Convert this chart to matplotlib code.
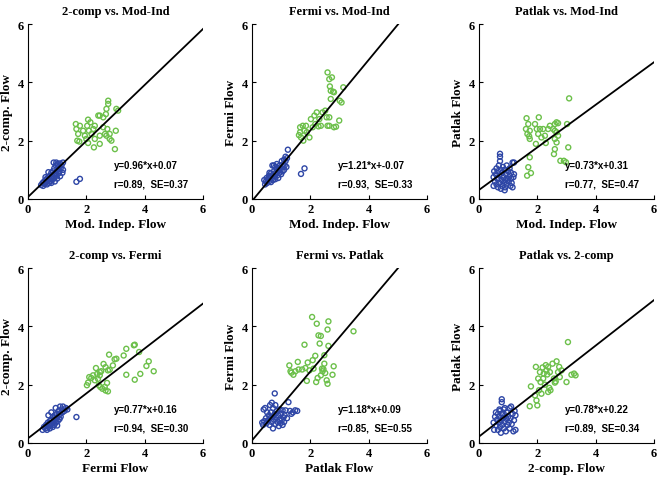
import numpy as np
import matplotlib
matplotlib.use('Agg')
import matplotlib.pyplot as plt

# panel texts
titles = ['2-comp vs. Mod-Ind', 'Fermi vs. Mod-Ind', 'Patlak vs. Mod-Ind',
          '2-comp vs. Fermi', 'Fermi vs. Patlak', 'Patlak vs. 2-comp']
xlabels = ['Mod. Indep. Flow', 'Mod. Indep. Flow', 'Mod. Indep. Flow',
           'Fermi Flow', 'Patlak Flow', '2-comp. Flow']
ylabels = ['2-comp. Flow', 'Fermi Flow', 'Patlak Flow',
           '2-comp. Flow', 'Fermi Flow', 'Patlak Flow']
slopes = [0.96, 1.21, 0.73, 0.77, 1.18, 0.78]
intercepts = [0.07, -0.07, 0.31, 0.16, 0.09, 0.22]
eq_texts = ['y=0.96*x+0.07', 'y=1.21*x+-0.07', 'y=0.73*x+0.31',
            'y=0.77*x+0.16', 'y=1.18*x+0.09', 'y=0.78*x+0.22']
stat_texts = ['r=0.89,  SE=0.37', 'r=0.93,  SE=0.33', 'r=0.77,  SE=0.47',
              'r=0.94,  SE=0.30', 'r=0.85,  SE=0.55', 'r=0.89,  SE=0.34']
ticks = [0, 2, 4, 6]

# estimated points (x, y) per panel: green = stress, blue = rest
p1_green = [(1.64, 2.57), (1.66, 2.4), (1.72, 2.23), (1.69, 2.0), (1.76, 1.97), (1.89, 2.34),
            (1.95, 2.17), (2.03, 2.51), (2.06, 2.72), (2.14, 2.63), (2.09, 2.34), (2.0, 2.06),
            (2.18, 2.23), (2.24, 2.4), (2.29, 2.51), (2.06, 1.92), (2.26, 1.77), (2.41, 2.86),
            (2.46, 2.86), (2.67, 2.91), (2.75, 3.37), (2.75, 3.26), (2.69, 3.09), (2.58, 2.8),
            (2.58, 2.46), (2.64, 2.23), (2.69, 2.17), (2.72, 2.4), (2.46, 1.89), (2.8, 2.06),
            (2.86, 2.0), (2.8, 2.23), (2.98, 1.71), (3.01, 2.34), (3.03, 3.09), (3.09, 3.03),
            (1.78, 2.51), (2.46, 2.17), (2.29, 2.06)]
p1_blue = [(0.45, 0.48), (0.5, 0.55), (0.52, 0.45), (0.55, 0.6), (0.58, 0.52), (0.6, 0.65),
           (0.62, 0.58), (0.65, 0.7), (0.65, 0.5), (0.68, 0.62), (0.7, 0.75), (0.72, 0.55),
           (0.72, 0.68), (0.75, 0.8), (0.78, 0.62), (0.78, 0.72), (0.8, 0.9), (0.8, 0.55),
           (0.82, 0.78), (0.85, 0.68), (0.85, 0.95), (0.88, 0.85), (0.88, 1.25), (0.9, 0.72),
           (0.9, 1.05), (0.92, 0.6), (0.95, 0.9), (0.95, 1.15), (0.98, 0.8), (1.0, 1.0),
           (1.0, 0.7), (1.02, 1.2), (1.05, 0.88), (1.05, 1.1), (1.08, 0.95), (1.1, 1.22),
           (1.1, 0.78), (1.12, 1.05), (1.15, 1.15), (1.18, 0.9), (1.2, 1.25), (1.2, 1.0),
           (0.97, 1.25), (0.7, 0.92), (0.6, 0.75), (1.66, 0.59), (1.78, 0.69)]

p2_green = [(1.65, 2.46), (1.65, 2.29), (1.68, 2.11), (1.74, 2.51), (1.8, 2.34), (1.76, 2.0),
            (1.85, 2.51), (1.88, 2.29), (1.97, 2.11), (2.02, 2.74), (2.08, 2.46), (2.14, 2.86),
            (2.17, 2.57), (2.22, 2.97), (2.31, 2.74), (2.36, 2.51), (2.42, 2.97), (2.51, 3.03),
            (2.56, 2.8), (2.59, 2.51), (2.59, 4.34), (2.65, 4.11), (2.74, 4.17), (2.67, 3.86),
            (2.7, 3.71), (2.78, 3.68), (2.81, 3.66), (2.7, 3.43), (2.65, 2.8), (2.65, 2.51),
            (2.81, 2.46), (2.88, 2.48), (2.99, 2.69), (3.01, 3.37), (3.07, 3.31), (3.13, 3.83),
            (1.61, 2.19), (2.28, 2.49)]
p2_blue = [(0.42, 0.65), (0.45, 0.5), (0.48, 0.6), (0.5, 0.72), (0.52, 0.55), (0.55, 0.68),
           (0.58, 0.8), (0.6, 0.62), (0.62, 0.75), (0.65, 0.88), (0.65, 0.58), (0.68, 0.7),
           (0.7, 1.15), (0.7, 0.82), (0.72, 0.65), (0.75, 0.95), (0.78, 0.78), (0.8, 1.1),
           (0.8, 0.68), (0.82, 0.9), (0.85, 1.2), (0.85, 1.0), (0.88, 0.82), (0.9, 0.72),
           (0.92, 1.05), (0.95, 1.15), (0.95, 0.9), (0.98, 1.0), (1.0, 0.85), (1.02, 1.3),
           (1.05, 1.1), (1.05, 0.95), (1.08, 1.2), (1.1, 1.35), (1.1, 1.0), (1.12, 1.15),
           (1.15, 1.45), (1.15, 1.3), (1.18, 1.1), (1.2, 1.4), (0.75, 1.15), (0.6, 0.9),
           (1.23, 1.69), (1.68, 0.86), (1.8, 1.05)]

p3_green = [(1.63, 2.77), (1.69, 2.57), (1.61, 2.4), (1.66, 2.23), (1.72, 2.15), (1.74, 2.06),
            (1.74, 2.34), (1.92, 2.57), (1.98, 2.4), (2.05, 2.8), (2.03, 2.23), (2.09, 2.4),
            (2.14, 2.11), (1.95, 1.89), (2.2, 2.4), (2.26, 2.17), (2.29, 1.92), (2.37, 2.4),
            (2.43, 2.51), (2.54, 2.4), (2.6, 2.57), (2.66, 2.63), (2.71, 2.6), (2.6, 2.34),
            (2.66, 2.29), (2.71, 2.17), (2.6, 2.06), (2.66, 1.94), (2.6, 1.71), (2.57, 1.54),
            (3.02, 2.57), (3.06, 1.77), (3.09, 3.45), (2.79, 1.31), (2.91, 1.31), (2.98, 1.26),
            (1.69, 1.09), (1.65, 0.8), (1.78, 0.89), (1.74, 1.43)]
p3_blue = [(0.5, 0.45), (0.5, 0.75), (0.52, 0.95), (0.55, 0.6), (0.58, 0.85), (0.6, 1.05),
           (0.6, 0.5), (0.62, 0.7), (0.65, 0.4), (0.65, 0.95), (0.68, 1.15), (0.7, 0.55),
           (0.7, 0.8), (0.72, 1.55), (0.72, 1.45), (0.72, 1.3), (0.75, 0.35), (0.75, 1.0),
           (0.78, 0.65), (0.8, 0.45), (0.8, 0.9), (0.82, 1.1), (0.85, 0.55), (0.85, 0.75),
           (0.88, 1.0), (0.9, 0.4), (0.9, 0.65), (0.92, 0.85), (0.95, 1.15), (0.95, 0.5),
           (0.98, 0.7), (1.0, 0.95), (1.02, 0.6), (1.05, 0.8), (1.05, 1.05), (1.08, 0.45),
           (1.1, 0.7), (1.1, 0.9), (1.12, 0.55), (1.15, 1.25), (1.15, 0.4), (1.18, 0.75),
           (1.2, 0.85), (1.2, 1.25), (0.68, 0.7), (0.88, 0.3)]

p4_green = [(2.02, 1.98), (2.06, 2.07), (2.1, 2.26), (2.17, 2.23), (2.23, 2.32), (2.29, 2.15),
            (2.33, 2.57), (2.37, 2.37), (2.4, 2.2), (2.46, 2.32), (2.46, 2.43), (2.51, 2.46),
            (2.43, 1.98), (2.48, 1.92), (2.55, 1.86), (2.63, 1.92), (2.66, 1.8), (2.74, 1.77),
            (2.59, 2.71), (2.66, 2.6), (2.74, 2.49), (2.8, 2.51), (2.78, 3.03), (2.71, 2.06),
            (2.91, 2.66), (2.97, 2.87), (3.03, 2.89), (3.28, 3.0), (3.37, 3.23), (3.63, 3.35),
            (3.66, 3.37), (3.37, 2.34), (3.66, 2.17), (3.85, 2.37), (3.81, 3.12), (4.06, 2.64),
            (4.14, 2.8), (4.31, 2.46)]
p4_blue = [(0.5, 0.45), (0.55, 0.55), (0.6, 0.5), (0.62, 0.62), (0.65, 0.45), (0.68, 0.7),
           (0.7, 0.55), (0.72, 0.65), (0.75, 0.75), (0.75, 0.5), (0.78, 0.6), (0.8, 0.8),
           (0.82, 0.68), (0.85, 0.55), (0.85, 0.9), (0.88, 0.72), (0.9, 0.62), (0.9, 0.85),
           (0.92, 0.95), (0.95, 0.7), (0.95, 0.8), (0.98, 1.0), (1.0, 0.88), (1.0, 0.6),
           (1.02, 0.75), (1.05, 1.1), (1.05, 0.95), (1.08, 0.82), (1.1, 1.25), (1.1, 1.0),
           (1.12, 0.9), (1.15, 1.15), (1.18, 1.05), (1.2, 1.25), (1.25, 1.1), (1.3, 1.2),
           (1.35, 1.15), (0.7, 0.95), (0.8, 1.05), (0.95, 1.2), (1.66, 0.89)]

p5_green = [(1.28, 2.66), (1.32, 2.46), (1.35, 2.41), (1.42, 2.34), (1.49, 2.46), (1.57, 2.78),
            (1.6, 2.52), (1.72, 2.52), (1.8, 3.37), (1.83, 2.57), (1.88, 2.13), (1.91, 2.76),
            (1.97, 2.49), (2.06, 4.32), (2.08, 2.84), (2.11, 2.55), (2.17, 2.99), (2.2, 2.09),
            (2.22, 4.09), (2.25, 2.23), (2.28, 3.69), (2.36, 3.67), (2.32, 3.41), (2.36, 2.32),
            (2.4, 2.55), (2.42, 2.46), (2.45, 2.53), (2.48, 3.01), (2.48, 2.72), (2.51, 2.4),
            (2.56, 2.15), (2.59, 2.03), (2.62, 4.17), (2.59, 3.89), (2.62, 3.33), (2.76, 2.34),
            (2.8, 2.63), (3.48, 3.83)]
p5_blue = [(0.35, 0.7), (0.38, 0.62), (0.4, 1.15), (0.42, 0.75), (0.45, 1.2), (0.48, 0.85),
           (0.5, 0.68), (0.52, 1.05), (0.55, 0.78), (0.58, 0.95), (0.6, 0.62), (0.62, 1.3),
           (0.62, 0.85), (0.65, 1.05), (0.68, 1.38), (0.68, 0.72), (0.7, 0.9), (0.72, 0.5),
           (0.72, 1.2), (0.75, 0.8), (0.78, 1.7), (0.78, 1.0), (0.8, 1.3), (0.8, 0.65),
           (0.82, 0.88), (0.85, 1.1), (0.88, 0.72), (0.9, 0.95), (0.92, 0.58), (0.95, 1.15),
           (0.95, 0.8), (0.98, 0.68), (1.0, 1.0), (1.02, 0.78), (1.05, 1.12), (1.05, 0.62),
           (1.08, 0.88), (1.1, 0.72), (1.12, 0.95), (1.15, 1.12), (1.2, 0.85), (1.25, 1.4),
           (1.3, 1.1), (1.4, 1.05), (1.48, 1.12), (1.55, 1.1), (1.35, 1.0)]

p6_green = [(1.74, 1.26), (1.78, 1.94), (1.92, 1.63), (1.95, 2.61), (1.97, 1.46), (2.0, 1.29),
            (2.03, 2.21), (2.06, 1.81), (2.09, 2.43), (2.14, 1.69), (2.18, 2.59), (2.2, 2.21),
            (2.22, 2.38), (2.26, 2.0), (2.29, 2.67), (2.31, 2.49), (2.34, 2.35), (2.37, 2.61),
            (2.41, 1.89), (2.37, 1.75), (2.43, 2.43), (2.45, 1.81), (2.52, 2.72), (2.57, 2.21),
            (2.6, 2.07), (2.63, 2.11), (2.66, 2.8), (2.71, 2.43), (2.75, 2.61), (2.83, 2.49),
            (3.0, 2.09), (3.05, 3.46), (3.17, 2.34), (3.26, 2.38), (3.31, 2.32), (2.77, 2.26),
            (2.11, 2.09)]
p6_blue = [(0.5, 0.7), (0.52, 0.45), (0.55, 0.9), (0.58, 1.05), (0.6, 0.6), (0.62, 0.8),
           (0.65, 1.0), (0.65, 0.45), (0.68, 0.7), (0.7, 0.9), (0.72, 0.55), (0.72, 1.1),
           (0.75, 0.35), (0.75, 0.78), (0.78, 1.5), (0.78, 1.4), (0.8, 0.62), (0.8, 1.0),
           (0.82, 0.85), (0.85, 0.5), (0.85, 1.15), (0.88, 0.72), (0.9, 0.95), (0.92, 0.4),
           (0.95, 0.82), (0.95, 1.05), (0.98, 0.62), (1.0, 0.9), (1.02, 0.7), (1.05, 1.2),
           (1.05, 0.5), (1.08, 0.85), (1.1, 1.25), (1.12, 0.65), (1.15, 1.0), (1.18, 0.4),
           (1.2, 0.78), (1.22, 1.1), (1.25, 0.45), (1.25, 0.95), (0.7, 1.15), (0.88, 1.2)]

greens = [p1_green, p2_green, p3_green, p4_green, p5_green, p6_green]
blues = [p1_blue, p2_blue, p3_blue, p4_blue, p5_blue, p6_blue]

serif = 'Liberation Serif'
sans = 'Liberation Sans'
green_c = '#6cc04a'
blue_c = '#2e46a6'

fig = plt.figure(figsize=(6.62, 4.81), dpi=100)

lefts = [28 / 662, 252 / 662, 479 / 662]
bottoms = [1 - 200 / 481, 1 - 444 / 481]
w = 175 / 662
h = 175 / 481

for i in range(6):
    row, col = divmod(i, 3)
    ax = fig.add_axes([lefts[col], bottoms[row], w, h])

    g = np.array(greens[i])
    b = np.array(blues[i])
    ax.scatter(g[:, 0], g[:, 1], s=13, facecolors='none', edgecolors=green_c, linewidths=1.0, zorder=2)
    ax.scatter(b[:, 0], b[:, 1], s=13, facecolors='none', edgecolors=blue_c, linewidths=1.0, zorder=2)

    xs = np.array([0, 6])
    ax.plot(xs, slopes[i] * xs + intercepts[i], color='black', lw=1.3, zorder=3)

    ax.text(2.95, 1.15, eq_texts[i], fontsize=7, fontweight='bold', family=sans, va='center')
    ax.text(2.95, 0.52, stat_texts[i], fontsize=7, fontweight='bold', family=sans, va='center')

    ax.set_xlim(0, 6)
    ax.set_ylim(0, 6)
    ax.set_xticks(ticks)
    ax.set_yticks(ticks)
    ax.spines['top'].set_visible(False)
    ax.spines['right'].set_visible(False)
    ax.tick_params(direction='in', length=3, labelsize=9, pad=3)
    for lab in ax.get_xticklabels() + ax.get_yticklabels():
        lab.set_family(serif)
        lab.set_fontweight('bold')

    ax.set_title(titles[i], fontsize=9, fontweight='bold', family=serif, pad=7)
    ax.set_xlabel(xlabels[i], fontsize=9.5, fontweight='bold', family=serif, labelpad=2)
    ax.set_ylabel(ylabels[i], fontsize=9.5, fontweight='bold', family=serif, labelpad=3)

plt.savefig('out.png', dpi=100)
